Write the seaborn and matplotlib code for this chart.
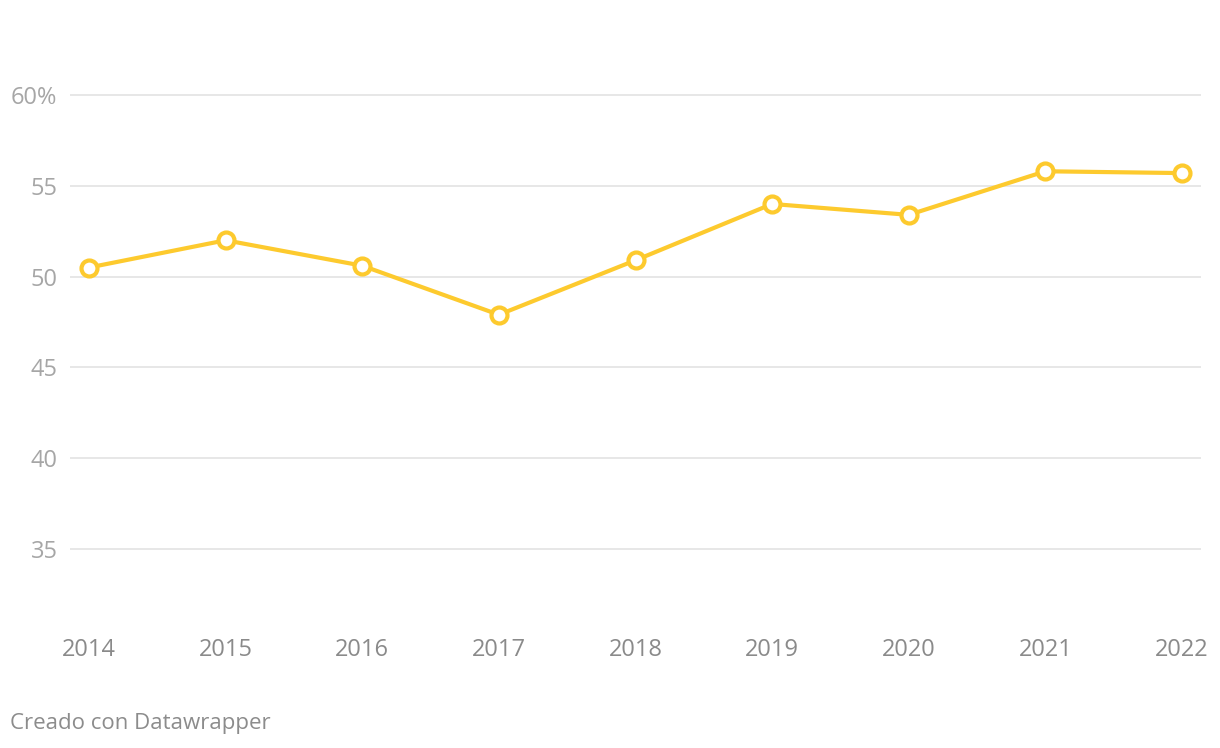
import matplotlib
matplotlib.use('Agg')
import matplotlib.pyplot as plt
import pandas as pd
import seaborn as sns

years = [2014, 2015, 2016, 2017, 2018, 2019, 2020, 2021, 2022]
values = [50.5, 52.0, 50.6, 47.9, 50.9, 54.0, 53.4, 55.8, 55.7]
y_ticks = [35, 40, 45, 50, 55, 60]
y_labels = ['35', '40', '45', '50', '55', '60%']

df = pd.DataFrame({'year': years, 'value': values})

sns.set_style('white')
plt.rcParams['font.family'] = ['Open Sans', 'DejaVu Sans']

fig = plt.figure(figsize=(12.2, 7.48), dpi=100)
ax = fig.add_axes([70 / 1220, 1 - 630 / 748, (1201 - 70) / 1220, (630 - 85) / 748])

sns.lineplot(data=df, x='year', y='value', ax=ax, color='#fdca2e', linewidth=3,
             marker='o', markersize=11.5, markerfacecolor='white',
             markeredgecolor='#fdca2e', markeredgewidth=3, zorder=3)

ax.set_xlim(2014 - 19 / 136.6, 2022 + 19 / 136.6)
ax.set_ylim(60 - (630 - 95) / 18.16, 60 + 10 / 18.16)

ax.set_yticks(y_ticks)
ax.set_yticklabels(y_labels)
ax.set_xticks(years)
ax.set_xticklabels([str(y) for y in years])
ax.yaxis.grid(True, color='#e3e3e3', linewidth=1.2)
ax.xaxis.grid(False)
ax.tick_params(axis='y', length=0, pad=9, labelsize=17, labelcolor='#a6a6a6')
ax.tick_params(axis='x', length=0, pad=5.5, labelsize=17, labelcolor='#8a8a8a')
for s in ax.spines.values():
    s.set_visible(False)
ax.set_xlabel('')
ax.set_ylabel('')

fig.text(10 / 1220, 1 - 724 / 748, 'Creado con Datawrapper', fontsize=16,
         color='#8c8c8c', va='center', ha='left')

fig.savefig('out.png', dpi=100, facecolor='white')
